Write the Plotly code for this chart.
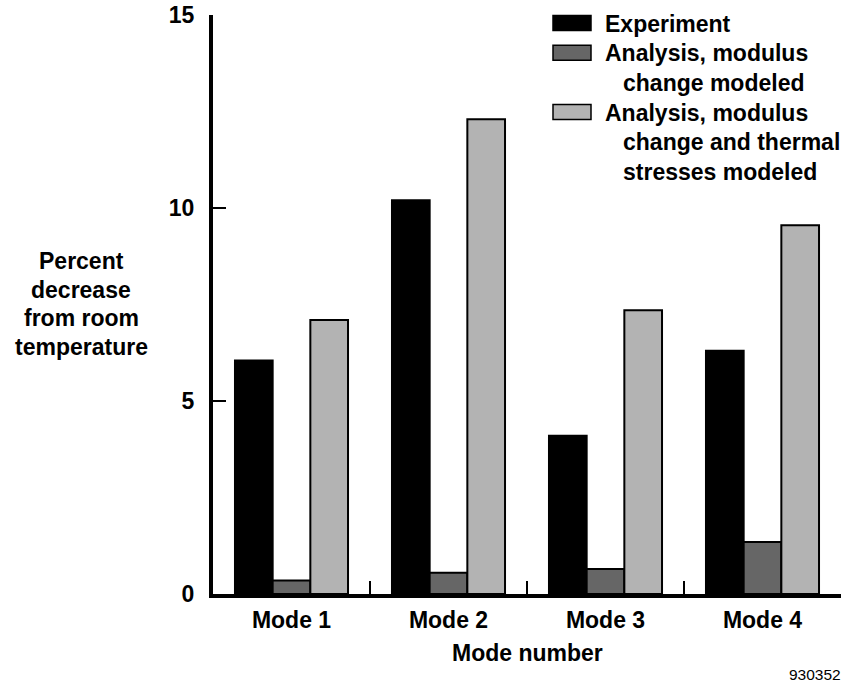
import plotly.graph_objects as go

categories = ["Mode 1", "Mode 2", "Mode 3", "Mode 4"]
experiment = [6.05, 10.2, 4.1, 6.3]
modulus_only = [0.35, 0.55, 0.65, 1.35]
modulus_thermal = [7.1, 12.3, 7.35, 9.55]
y_ticks = [0, 5, 10, 15]
series_names = ["Experiment", "Analysis, modulus change modeled",
                "Analysis, modulus change and thermal stresses modeled"]
legend_lines = [["Experiment"],
                ["Analysis, modulus", "change modeled"],
                ["Analysis, modulus", "change and thermal", "stresses modeled"]]
y_title_lines = ["Percent", "decrease", "from room", "temperature"]
colors = ["#000000", "#666666", "#b3b3b3"]

W_PX, H_PX = 847, 684
# plot area in page pixels: left 213, right 841, top 15, bottom 594
L, T = 213, 15
PW = 841 - 213
PH = 594 - 15
R = W_PX - L - PW
B = H_PX - T - PH
FONT = "Liberation Sans, Arial, sans-serif"
FS = 23


def px(x):
    return (x - L) / PW


def py(y):
    return 1 - (y - T) / PH


def bold(size=FS):
    return dict(family=FONT, size=size, color="#000000", weight="bold")


fig = go.Figure()
for name, vals, col in zip(series_names, [experiment, modulus_only, modulus_thermal], colors):
    fig.add_trace(go.Bar(x=categories, y=vals, name=name,
                         marker=dict(color=col, line=dict(color="#000000", width=2)),
                         showlegend=False))

annotations = []
shapes = []
row_y = 23.5
for i, lines in enumerate(legend_lines):
    shapes.append(dict(type="rect", xref="paper", yref="paper",
                       x0=px(553), x1=px(591), y0=py(row_y - 8), y1=py(row_y + 7),
                       fillcolor=colors[i], line=dict(color="#000000", width=1.5)))
    for j, txt in enumerate(lines):
        annotations.append(dict(xref="paper", yref="paper", x=px(603 if j == 0 else 621),
                                y=py(row_y), text=txt, showarrow=False,
                                xanchor="left", yanchor="middle", font=bold()))
        row_y += 29.7

for k, txt in enumerate(y_title_lines):
    annotations.append(dict(xref="paper", yref="paper", x=px(81), y=py(261 + 28.5 * k),
                            text=txt, showarrow=False, xanchor="center", yanchor="middle",
                            font=bold()))
annotations.append(dict(xref="paper", yref="paper", x=px(527), y=py(653),
                        text="Mode number", showarrow=False, xanchor="center", yanchor="middle",
                        font=bold()))
annotations.append(dict(xref="paper", yref="paper", x=px(843), y=py(674),
                        text="930352", showarrow=False, xanchor="right", yanchor="middle",
                        font=dict(family=FONT, size=15.5, color="#000000")))

fig.update_layout(
    width=W_PX, height=H_PX,
    margin=dict(l=L, r=R, t=T, b=B, pad=0, autoexpand=False),
    paper_bgcolor="white", plot_bgcolor="white",
    barmode="group", bargap=0.28, bargroupgap=0,
    annotations=annotations, shapes=shapes,
    font=dict(family=FONT, size=FS, color="#000000"),
)
fig.update_xaxes(showline=True, linecolor="#000000", linewidth=4, mirror=False,
                 ticks="inside", ticklen=13, tickwidth=2, tickcolor="#000000",
                 tickson="boundaries", showgrid=False, zeroline=False, automargin=False,
                 tickfont=bold(), ticklabelstandoff=2, ticklabeloverflow="allow")
fig.update_yaxes(range=[0, 15], tickvals=y_ticks, ticktext=[str(v) for v in y_ticks],
                 showline=True, linecolor="#000000", linewidth=4,
                 ticks="inside", ticklen=13, tickwidth=2, tickcolor="#000000",
                 showgrid=False, zeroline=False, automargin=False,
                 tickfont=bold(), ticklabelstandoff=10, ticklabeloverflow="allow")

fig.write_html("out.html", config={"displayModeBar": False},
               post_script="document.body.style.margin='0';")
